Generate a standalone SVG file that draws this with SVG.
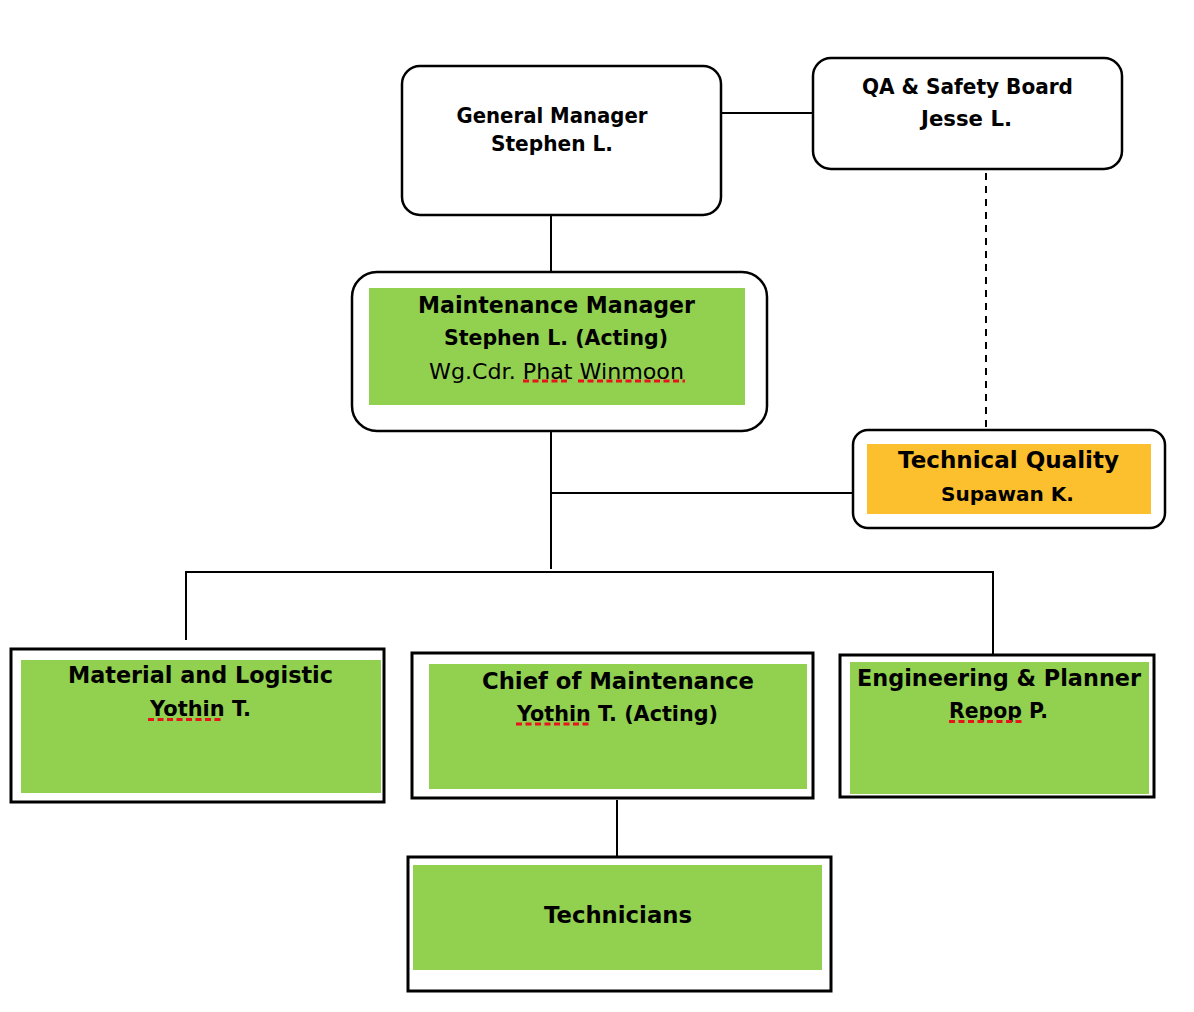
<svg xmlns="http://www.w3.org/2000/svg" width="1194" height="1012" viewBox="0 0 1194 1012">
<style>
.rbox{fill:#fff;stroke:#000;stroke-width:2.5}
.sbox{fill:#fff;stroke:#000;stroke-width:3}
.green{fill:#92D050}
.orange{fill:#FCBF2E}
.conn{stroke:#000;stroke-width:2;fill:none}
.dash{stroke:#000;stroke-width:2;stroke-dasharray:7,6;fill:none}
.sp{stroke:#e8141b;stroke-width:3;stroke-dasharray:6,3.5;fill:none}
text{font-family:"DejaVu Sans","Liberation Sans",Arial,sans-serif;fill:#000;text-anchor:middle}
.b{font-weight:bold}
</style>
<rect width="1194" height="1012" fill="#fff"/>
<g id="connectors">
<line class="conn" x1="721" y1="113" x2="813" y2="113"/>
<line class="dash" x1="986" y1="173" x2="986" y2="428"/>
<line class="conn" x1="551" y1="215" x2="551" y2="272"/>
<line class="conn" x1="551" y1="431" x2="551" y2="569"/>
<line class="conn" x1="551" y1="493" x2="853" y2="493"/>
<polyline class="conn" points="186,640 186,572 993,572 993,655"/>
<line class="conn" x1="617" y1="800" x2="617" y2="861"/>
</g>
<g id="general-manager">
<rect class="rbox" x="402" y="66" width="319" height="149" rx="18"/>
<text class="b" x="552" y="123" font-size="20.8" textLength="191" lengthAdjust="spacingAndGlyphs">General Manager</text>
<text class="b" x="552" y="151" font-size="20.8" textLength="122" lengthAdjust="spacingAndGlyphs">Stephen L.</text>
</g>
<g id="qa-safety-board">
<rect class="rbox" x="813" y="58" width="309" height="111" rx="18"/>
<text class="b" x="967.5" y="94" font-size="20.8" textLength="211" lengthAdjust="spacingAndGlyphs">QA &amp; Safety Board</text>
<text class="b" x="966.5" y="126" font-size="20.8" textLength="91" lengthAdjust="spacingAndGlyphs">Jesse L.</text>
</g>
<g id="maintenance-manager">
<rect class="rbox" x="352" y="272" width="415" height="159" rx="25"/>
<rect class="green" x="369" y="288" width="376" height="117"/>
<text class="b" x="556.5" y="313" font-size="22.8" textLength="277" lengthAdjust="spacingAndGlyphs">Maintenance Manager</text>
<text class="b" x="556" y="345" font-size="20.8" textLength="224" lengthAdjust="spacingAndGlyphs">Stephen L. (Acting)</text>
<text x="556.5" y="379" font-size="21.5" textLength="255" lengthAdjust="spacingAndGlyphs">Wg.Cdr. Phat Winmoon</text>
<line class="sp" x1="523" y1="381" x2="570" y2="381"/>
<line class="sp" x1="578" y1="381" x2="685" y2="381"/>
</g>
<g id="technical-quality">
<rect class="rbox" x="853" y="430" width="312" height="98" rx="15"/>
<rect class="orange" x="867" y="444" width="284" height="70"/>
<text class="b" x="1008.5" y="468" font-size="22.8" textLength="221" lengthAdjust="spacingAndGlyphs">Technical Quality</text>
<text class="b" x="1007.5" y="500.5" font-size="20.2" textLength="133" lengthAdjust="spacingAndGlyphs">Supawan K.</text>
</g>
<g id="material-logistic">
<rect class="sbox" x="11" y="649" width="373" height="153"/>
<rect class="green" x="21" y="660" width="360" height="133"/>
<text class="b" x="200.5" y="683" font-size="22.8" textLength="265" lengthAdjust="spacingAndGlyphs">Material and Logistic</text>
<text class="b" x="200.5" y="716" font-size="20.8" textLength="101" lengthAdjust="spacingAndGlyphs">Yothin T.</text>
<line class="sp" x1="148" y1="719.5" x2="223" y2="719.5"/>
</g>
<g id="chief-maintenance">
<rect class="sbox" x="412" y="653" width="401" height="145"/>
<rect class="green" x="429" y="664" width="378" height="125"/>
<text class="b" x="618" y="689" font-size="22.8" textLength="272" lengthAdjust="spacingAndGlyphs">Chief of Maintenance</text>
<text class="b" x="617.5" y="721" font-size="20.8" textLength="201" lengthAdjust="spacingAndGlyphs">Yothin T. (Acting)</text>
<line class="sp" x1="516" y1="724" x2="591" y2="724"/>
</g>
<g id="engineering-planner">
<rect class="sbox" x="840" y="655" width="314" height="142"/>
<rect class="green" x="850" y="662" width="299" height="132"/>
<text class="b" x="999" y="686" font-size="22.8" textLength="284" lengthAdjust="spacingAndGlyphs">Engineering &amp; Planner</text>
<text class="b" x="998.5" y="718" font-size="20.8" textLength="99" lengthAdjust="spacingAndGlyphs">Repop P.</text>
<line class="sp" x1="949" y1="721.5" x2="1024" y2="721.5"/>
</g>
<g id="technicians">
<rect class="sbox" x="408" y="857" width="423" height="134"/>
<rect class="green" x="413" y="865" width="409" height="105"/>
<text class="b" x="618" y="922.5" font-size="22.5" textLength="148" lengthAdjust="spacingAndGlyphs">Technicians</text>
</g>
</svg>
